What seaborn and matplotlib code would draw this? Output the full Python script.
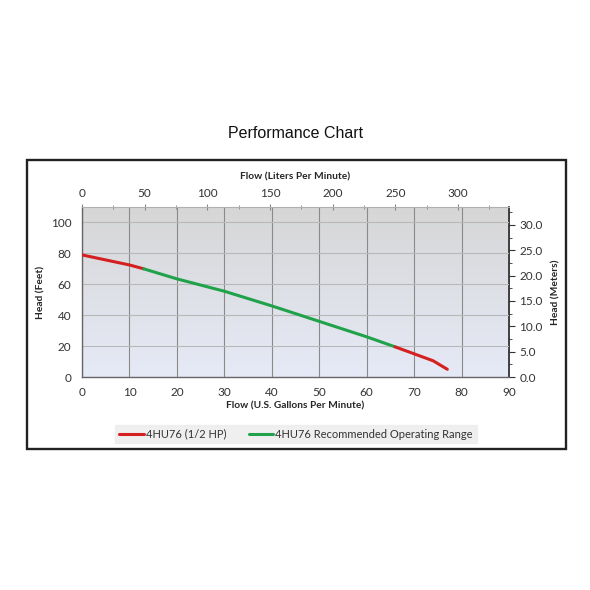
import numpy as np
import pandas as pd
import matplotlib
matplotlib.use("Agg")
import matplotlib.pyplot as plt
import seaborn as sns
from matplotlib.patches import Rectangle
from matplotlib.lines import Line2D
from matplotlib.ticker import MultipleLocator, FixedLocator

# Pump curve (flow in US gpm, head in feet)
flow_low = [0, 10, 13]
head_low = [79, 72.5, 70]
flow_mid = [13, 20, 30, 40, 50, 60, 66]
head_mid = [70, 63.5, 55.5, 46, 36, 26, 19.5]
flow_high = [66, 70, 74, 77]
head_high = [19.5, 15, 10.5, 5]

series_names = ["4HU76 (1/2 HP)", "4HU76 Recommended Operating Range"]
liter_ticks = [0, 50, 100, 150, 200, 250, 300]
meter_ticks = [0, 5, 10, 15, 20, 25, 30]
red = "#d42020"
green = "#1fa24a"

sns.set_style("white")
plt.rcParams["font.family"] = ["Lato", "DejaVu Sans"]

fig = plt.figure(figsize=(5.9, 5.9), dpi=100)

# outer frame
fig.patches.append(Rectangle((27 / 590, 1 - 449 / 590), 539 / 590, 289 / 590,
                             transform=fig.transFigure, fill=False,
                             edgecolor="#222222", linewidth=1.7, zorder=0))
fig.text(296 / 590, 1 - 134 / 590, "Performance Chart", ha="center", va="center",
         fontsize=11.5, family=["Liberation Sans", "DejaVu Sans"], color="#111111")

ax = fig.add_axes([82 / 590, 1 - 377 / 590, 427 / 590, 170 / 590])

# gradient background
grad = np.linspace(0, 1, 256).reshape(-1, 1)
cmap = matplotlib.colors.LinearSegmentedColormap.from_list("bg", ["#d6d6d6", "#e6eaf7"])
ax.imshow(grad, extent=[0, 90, 0, 110], aspect="auto", cmap=cmap, origin="upper", zorder=0)

for fx, hy, col in [(flow_low, head_low, red), (flow_mid, head_mid, green), (flow_high, head_high, red)]:
    sns.lineplot(x=fx, y=hy, ax=ax, color=col, linewidth=2.2, zorder=3)

ax.set_xlim(0, 90)
ax.set_ylim(0, 110)
ax.xaxis.set_major_locator(MultipleLocator(10))
ax.xaxis.set_minor_locator(MultipleLocator(2))
ax.yaxis.set_major_locator(MultipleLocator(20))
ax.yaxis.set_minor_locator(MultipleLocator(4))
ax.grid(axis="x", color="#8a8a8a", linewidth=0.8, zorder=1)
ax.grid(axis="y", color="#b8b8b8", linewidth=0.8, zorder=1)
ax.set_axisbelow(True)
ax.spines["right"].set_visible(False)
ax.spines["top"].set_color("#b0b0b0")
ax.spines["top"].set_linewidth(0.8)
for s in ["left", "bottom"]:
    ax.spines[s].set_color("#666666")
    ax.spines[s].set_linewidth(1.0)
ax.tick_params(which="both", direction="out", color="#666666", labelsize=8.5, labelcolor="#333333")
ax.tick_params(which="major", length=4)
ax.tick_params(which="minor", length=2)
ax.set_xlabel("Flow (U.S. Gallons Per Minute)", fontsize=7.3, fontweight="bold", labelpad=2)
ax.set_ylabel("Head (Feet)", fontsize=7.3, fontweight="bold", labelpad=4)

# secondary axes in metric units
top = ax.secondary_xaxis("top", functions=(lambda g: g * 3.785, lambda l: l / 3.785))
top.xaxis.set_major_locator(FixedLocator(liter_ticks))
top.xaxis.set_minor_locator(FixedLocator([t + 25 for t in liter_ticks]))
top.spines["top"].set_visible(False)
top.tick_params(which="both", direction="inout", color="#888888", labelsize=8.5, labelcolor="#333333")
top.tick_params(which="major", length=5)
top.tick_params(which="minor", length=3)
top.set_xlabel("Flow (Liters Per Minute)", fontsize=7.3, fontweight="bold", labelpad=6)

right = ax.secondary_yaxis("right", functions=(lambda f: f * 0.3048, lambda m: m / 0.3048))
right.yaxis.set_major_locator(FixedLocator(meter_ticks))
right.yaxis.set_minor_locator(FixedLocator([t + 2.5 for t in meter_ticks]))
right.yaxis.set_major_formatter(matplotlib.ticker.FormatStrFormatter("%.1f"))
right.spines["right"].set_color("#222222")
right.spines["right"].set_linewidth(1.2)
right.tick_params(which="both", color="#333333", labelsize=8.5, labelcolor="#333333")
right.tick_params(which="major", length=4)
right.tick_params(which="minor", length=2)
right.set_ylabel("Head (Meters)", fontsize=7.3, fontweight="bold", labelpad=6)

handles = [Line2D([], [], color=red, linewidth=2.2), Line2D([], [], color=green, linewidth=2.2)]
leg = fig.legend(handles, series_names, loc="center", bbox_to_anchor=(296 / 590, 1 - 434 / 590),
                 ncol=2, fontsize=8, frameon=True, fancybox=False, handlelength=2.2,
                 handletextpad=0.2, columnspacing=2.0, borderpad=0.35)
leg.get_frame().set_facecolor("#ececec")
leg.get_frame().set_edgecolor("#ececec")
for t in leg.get_texts():
    t.set_color("#333333")

fig.savefig("out.png", dpi=100, facecolor="white")
